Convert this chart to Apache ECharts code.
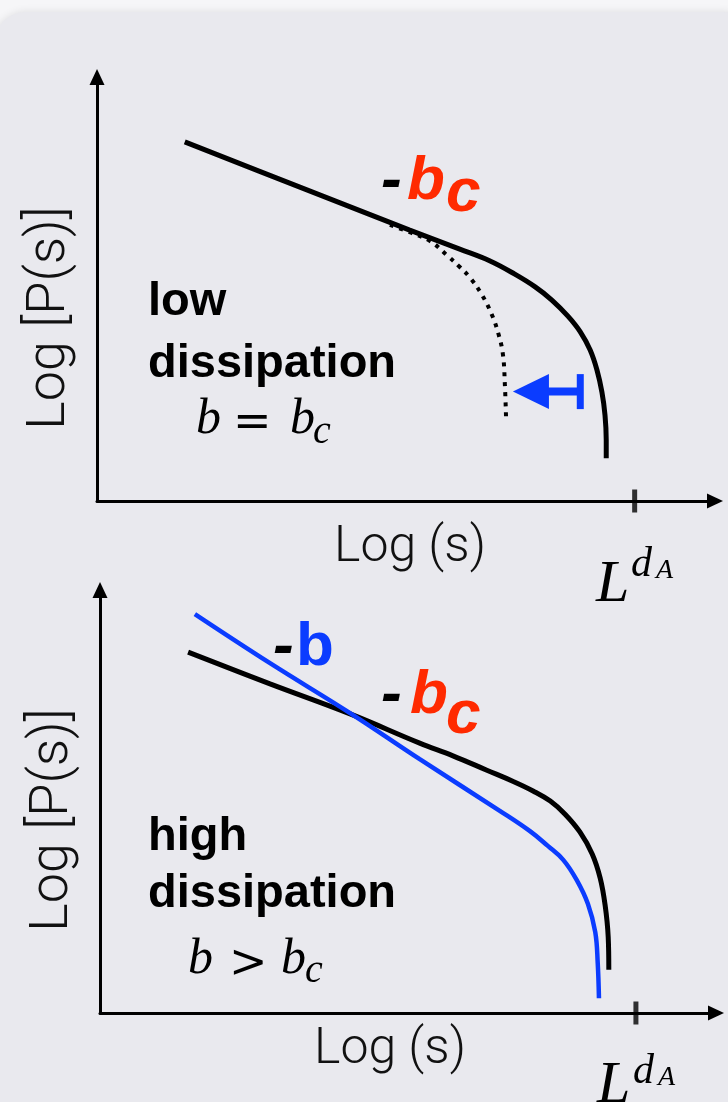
<!DOCTYPE html>
<html>
<head>
<meta charset="utf-8">
<script src="https://cdn.jsdelivr.net/npm/echarts@6/dist/echarts.min.js"></script>
<style>
  html, body { margin: 0; padding: 0; background: #f6f6f8; }
  #chart { width: 728px; height: 1102px; }
</style>
</head>
<body>
<div id="chart"></div>
<script>
// Schematic avalanche-size distributions, log P(s) versus log s (arbitrary units 0..10)
const axisMax = 10;
const cutoffLogS = 8.7;               // position of the L^{d_A} cutoff on the s axis

// Low dissipation: critical curve (solid) and curve with shifted cutoff (dotted)
const lowCritical = [
  [1.42, 8.47], [3.20, 7.45], [5.06, 6.39], [5.87, 5.94], [6.36, 5.66],
  [6.76, 5.35], [7.09, 5.05], [7.36, 4.74], [7.62, 4.36], [7.82, 3.99],
  [7.98, 3.56], [8.09, 3.09], [8.17, 2.57], [8.22, 2.03], [8.24, 1.44],
  [8.24, 1.01]
];
const lowShifted = [
  [4.74, 6.51], [5.06, 6.34], [5.39, 6.13], [5.66, 5.80], [5.87, 5.52],
  [6.04, 5.26], [6.23, 4.86], [6.39, 4.39], [6.50, 3.92], [6.57, 3.44],
  [6.60, 2.74], [6.62, 1.91]
];
// Cutoff shift arrow: [from log s, to log s, log P]
const shiftArrow = [[7.82, 6.73, 2.58]];

// High dissipation: critical curve (black) and steeper curve (blue)
const highCritical = [
  [1.43, 8.53], [2.76, 7.78], [4.06, 7.07], [5.19, 6.38], [5.73, 6.08],
  [6.28, 5.74], [6.70, 5.48], [7.03, 5.25], [7.31, 5.01], [7.55, 4.70],
  [7.79, 4.28], [7.99, 3.76], [8.12, 3.19], [8.20, 2.55], [8.25, 1.80],
  [8.26, 1.02]
];
const highSteep = [
  [1.54, 9.43], [2.76, 8.27], [4.06, 7.09], [5.19, 6.00], [6.49, 4.78],
  [6.98, 4.30], [7.27, 3.95], [7.52, 3.62], [7.74, 3.14], [7.92, 2.58],
  [8.04, 1.91], [8.08, 1.18], [8.10, 0.35]
];

const RED = '#ff2a00';
const BLUE = '#0b3cff';
const INK = '#000000';

const chart = echarts.init(document.getElementById('chart'), null, { renderer: 'canvas' });

function axisPair(gridIndex, xGap, xNamePad, yNamePad) {
  const common = {
    gridIndex, type: 'value', min: 0, max: axisMax,
    axisTick: { show: false }, axisLabel: { show: false }, splitLine: { show: false },
    nameLocation: 'middle',
    axisLine: {
      show: true, onZero: false,
      symbol: ['none', 'triangle'], symbolSize: [15, 16],
      lineStyle: { color: INK, width: 3 }
    }
  };
  const nameStyle = { fontFamily: 'Roboto', fontWeight: 300, color: '#111' };
  return {
    x: Object.assign({}, common, {
      name: 'Log (s)', nameGap: xGap,
      nameTextStyle: Object.assign({}, nameStyle, { fontSize: 50, padding: xNamePad })
    }),
    y: Object.assign({}, common, {
      name: 'Log [P(s)]', nameGap: 20, nameRotate: 90,
      nameTextStyle: Object.assign({}, nameStyle, { fontSize: 54, padding: yNamePad })
    })
  };
}
const upperAxes = axisPair(0, 22, [0, 0, 0, 8], [0, 58, 0, 0]);
const lowerAxes = axisPair(1, 12, [0, 36, 0, 0], [0, 37, 0, 0]);

function curve(data, gi, color, width, type) {
  return {
    type: 'line', xAxisIndex: gi, yAxisIndex: gi, data,
    smooth: 0.4, showSymbol: false, silent: true,
    lineStyle: { color, width, type: type || 'solid', cap: 'butt' },
    z: 3
  };
}

function cutoffTick(gi) {
  return {
    type: 'scatter', xAxisIndex: gi, yAxisIndex: gi, silent: true,
    data: [[cutoffLogS, 0]], symbol: 'rect', symbolSize: [5, 23],
    itemStyle: { color: INK }, z: 5
  };
}

const arrowSeries = {
  type: 'custom', xAxisIndex: 0, yAxisIndex: 0, silent: true, z: 4,
  data: shiftArrow,
  renderItem: function (params, api) {
    const tail = api.coord([api.value(0), api.value(2)]);
    const tip = api.coord([api.value(1), api.value(2)]);
    const headLen = 36, headHalf = 17.5, shaft = 8, barW = 7, barHalf = 17.5;
    const baseX = tip[0] + headLen;
    return {
      type: 'group',
      children: [
        { type: 'polygon', shape: { points: [[tip[0], tip[1]], [baseX, tip[1] - headHalf], [baseX, tip[1] + headHalf]] },
          style: { fill: BLUE } },
        { type: 'rect', shape: { x: baseX - 1, y: tip[1] - shaft / 2, width: tail[0] - baseX + 1, height: shaft },
          style: { fill: BLUE } },
        { type: 'rect', shape: { x: tail[0] - barW / 2, y: tail[1] - barHalf, width: barW, height: barHalf * 2 },
          style: { fill: BLUE } }
      ]
    };
  }
};

// Text helpers (y is the visual middle line of the text)
function txt(text, x, y, font, fill) {
  return { type: 'text', x, y, silent: true, z: 10,
    style: { text, font, fill: fill || INK, align: 'left', verticalAlign: 'middle' } };
}
const SANS_BI = 'italic bold 62px "Liberation Sans", Arial, sans-serif';
const SANS_B62 = 'bold 62px "Liberation Sans", Arial, sans-serif';
const SANS_B47 = 'bold 47px "Liberation Sans", Arial, sans-serif';
const SERIF_I = (s) => 'italic ' + s + 'px "Liberation Serif", "Times New Roman", serif';
const SERIF = (s) => s + 'px "DejaVu Serif", serif';

const labels = [
  // slope labels, upper panel
  txt('-', 381, 182, SANS_BI), txt('b', 407, 182, SANS_BI, RED), txt('c', 446, 194, SANS_BI, RED),
  // slope labels, lower panel
  txt('-', 273, 648, SANS_BI), txt('b', 296, 648, SANS_B62, BLUE),
  txt('-', 381, 696, SANS_BI), txt('b', 410, 696, SANS_BI, RED), txt('c', 446, 716, SANS_BI, RED),
  // regime captions
  txt('low', 148, 302, SANS_B47), txt('dissipation', 148, 364, SANS_B47),
  txt('high', 148, 837, SANS_B47), txt('dissipation', 148, 894, SANS_B47),
  // b = b_c
  txt('b', 196, 420, SERIF_I(50)), txt('=', 233, 424, SERIF(46)),
  txt('b', 290, 420, SERIF_I(50)), txt('c', 313, 432, SERIF_I(40)),
  // b > b_c
  txt('b', 188, 960, SERIF_I(50)), txt('>', 229, 965, SERIF(46)),
  txt('b', 281, 960, SERIF_I(50)), txt('c', 305, 971, SERIF_I(40)),
  // L^{d_A} at the cutoff tick
  txt('L', 596, 585, SERIF_I(60)), txt('d', 631, 565, SERIF_I(42)), txt('A', 656, 571, SERIF_I(28)),
  txt('L', 597, 1086, SERIF_I(60)), txt('d', 633, 1072, SERIF_I(42)), txt('A', 658, 1078, SERIF_I(28))
];

chart.setOption({
  backgroundColor: '#f6f6f8',
  animation: false,
  grid: [
    { left: 97, right: 13, top: 77, bottom: 601 },
    { left: 100, right: 12, top: 590, bottom: 89 }
  ],
  xAxis: [upperAxes.x, lowerAxes.x],
  yAxis: [upperAxes.y, lowerAxes.y],
  graphic: [
    { type: 'rect', z: -10, silent: true,
      shape: { x: -6, y: 12, width: 760, height: 1130, r: 32 },
      style: { fill: '#e9e9ee', shadowBlur: 8, shadowColor: 'rgba(0,0,0,0.10)' } }
  ].concat(labels),
  series: [
    curve(lowShifted, 0, INK, 4, [4, 6]),
    curve(lowCritical, 0, INK, 5),
    arrowSeries,
    cutoffTick(0),
    curve(highCritical, 1, INK, 5),
    curve(highSteep, 1, BLUE, 4.5),
    cutoffTick(1)
  ]
});
</script>
</body>
</html>
